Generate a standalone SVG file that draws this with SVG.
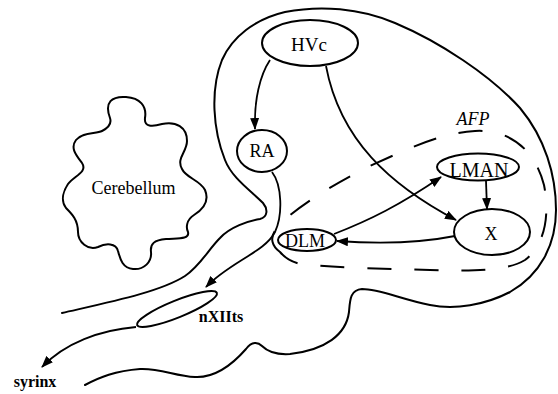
<svg xmlns="http://www.w3.org/2000/svg" width="558" height="394" viewBox="0 0 558 394">
<style>
  .ln{fill:none;stroke:#000;stroke-width:2;stroke-linecap:round;stroke-linejoin:round}
  .nd{fill:#fff;stroke:#000;stroke-width:2}
  .dash{fill:none;stroke:#000;stroke-width:2;stroke-dasharray:24 23}
  .cn{fill:none;stroke:#000;stroke-width:1.8;marker-end:url(#arr)}
  .t{font-family:"Liberation Serif","Times New Roman",serif;fill:#000;text-anchor:middle}
</style>
<defs>
  <marker id="arr" viewBox="0 0 12 9" refX="11" refY="4.5" markerWidth="12" markerHeight="9" orient="auto" markerUnits="userSpaceOnUse">
    <path d="M0,0 L12,4.5 L0,9 Z" fill="#000"/>
  </marker>
</defs>
<rect width="558" height="394" fill="#fff"/>

<g id="brain-outline">
  <path class="ln" d="M 62,313 C 110,302 160,292 185,276 C 200,266 208,250 220,238 C 230,227 248,221 260,219 C 268,217 268,209 263,203 C 250,190 232,178 225,160 C 213,130 210,90 222,60 C 232,37 255,19 285,12 C 320,5 360,8 395,23 C 440,42 490,75 520,108 C 545,138 556,175 556,210 C 556,245 540,275 510,292 C 485,305 455,310 430,305 C 400,299 380,289 362,289 C 350,290 350,300 349,312 C 346,335 325,350 290,354 C 275,355 266,350 262,346 C 258,342 252,341 246,349 C 232,365 215,378 195,377 C 175,376 160,368 140,369 C 115,371 100,377 85,385"/>
</g>

<g id="cerebellum">
  <path class="ln" d="M 110,118 C 104,102 112,96 126,97 C 140,98 147,106 145,118 C 144,127 152,127 162,124 C 176,121 187,127 187,141 C 187,152 176,158 182,169 C 186,178 200,180 205,190 C 210,202 202,210 194,215 C 186,220 186,228 188,232 C 190,240 176,238 166,239 C 154,240 150,244 151,252 C 152,262 144,270 133,269 C 122,268 120,258 118,251 C 116,243 106,243 98,247 C 88,251 78,242 78,232 C 78,220 72,214 66,208 C 60,200 64,190 68,184 C 74,176 88,172 82,163 C 76,155 70,148 76,140 C 82,132 96,134 102,131 C 108,128 112,124 110,118 Z"/>
  <text class="t" x="133.5" y="194" font-size="18">Cerebellum</text>
</g>

<g id="AFP">
  <path class="dash" d="M 280,252 C 270,245 270,235 278,227 C 292,210 330,186 370,166 C 410,148 440,133 475,131 C 510,129 535,150 544,185 C 550,215 545,245 525,260 C 505,272 470,271 430,270 C 390,269 340,268 300,264 C 292,262 285,258 280,252 Z"/>
  <text class="t" x="473" y="125" font-size="18" font-style="italic">AFP</text>
</g>

<g id="connectors">
  <path class="cn" d="M 270,60 C 260,75 254,100 255,129"/>
  <path class="cn" d="M 326,66 C 340,140 390,185 456,220"/>
  <path class="cn" d="M 334,234 C 370,220 400,205 441,177"/>
  <path class="cn" d="M 455,236 C 420,243 380,244 337,241"/>
  <path class="cn" d="M 486,181 L 487,209"/>
  <path class="cn" d="M 272,172 C 282,185 283,215 275,232 C 265,252 230,262 206,287"/>
  <path class="cn" d="M 136,327 C 100,330 65,343 42,367"/>
</g>

<g id="HVc">
  <ellipse class="nd" cx="310" cy="43" rx="48" ry="23"/>
  <text class="t" x="309" y="51" font-size="19">HVc</text>
</g>
<g id="RA">
  <ellipse class="nd" cx="262" cy="151" rx="25" ry="21"/>
  <text class="t" x="262" y="157" font-size="18">RA</text>
</g>
<g id="LMAN">
  <ellipse class="nd" cx="478" cy="167" rx="41" ry="13.5"/>
  <text class="t" x="479" y="177" font-size="20">LMAN</text>
</g>
<g id="X">
  <ellipse class="nd" cx="492" cy="232" rx="38" ry="23"/>
  <text class="t" x="491" y="240" font-size="18">X</text>
</g>
<g id="DLM">
  <ellipse class="nd" cx="307" cy="240" rx="29" ry="11"/>
  <text class="t" x="305" y="247" font-size="18">DLM</text>
</g>
<g id="nXIIts">
  <ellipse class="nd" cx="177" cy="309" rx="43" ry="8.5" transform="rotate(-22 177 309)"/>
  <text class="t" x="221" y="322" font-size="16" font-weight="bold">nXIIts</text>
</g>
<g id="syrinx">
  <text class="t" x="35" y="387" font-size="16" font-weight="bold">syrinx</text>
</g>
</svg>
